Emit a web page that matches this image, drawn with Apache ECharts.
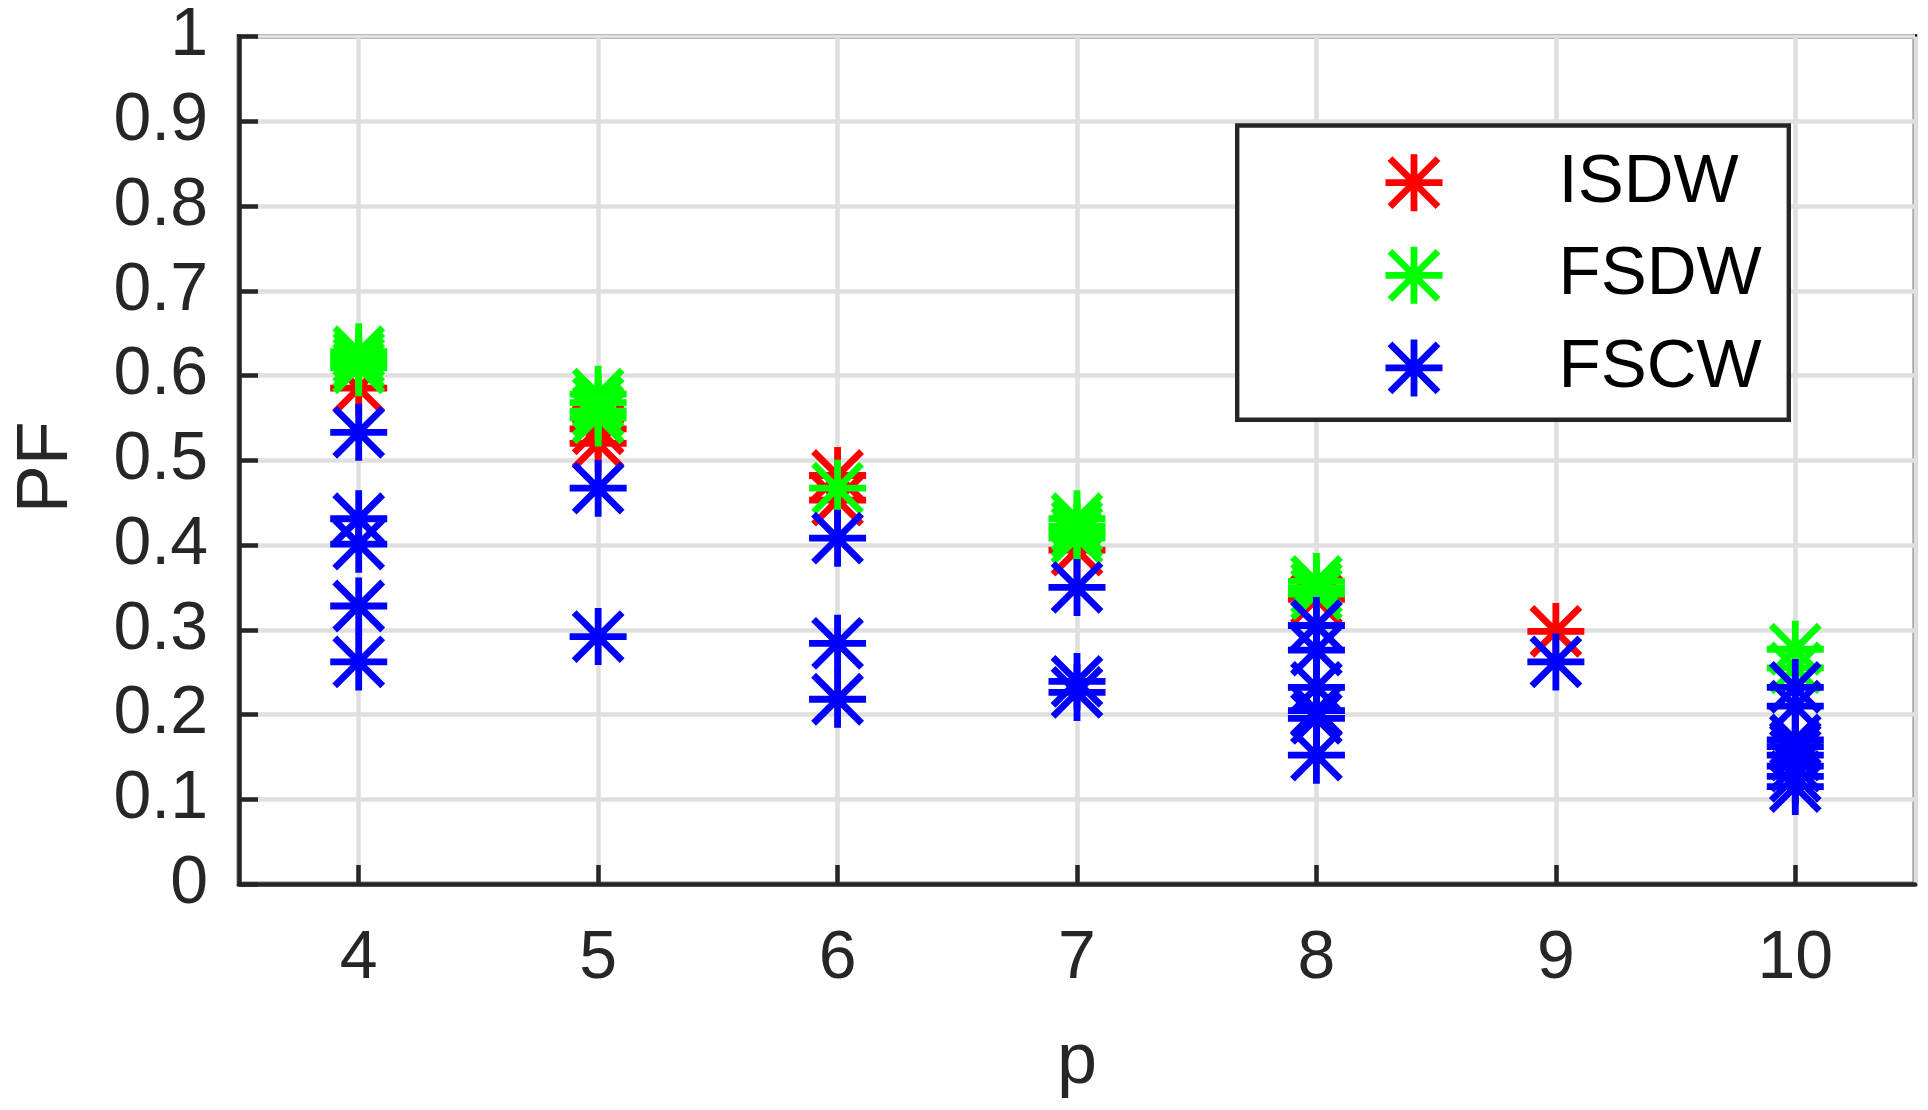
<!DOCTYPE html>
<html>
<head>
<meta charset="utf-8">
<script src="https://cdn.jsdelivr.net/npm/echarts@6/dist/echarts.min.js"></script>
<style>
html,body{margin:0;padding:0;background:#fff;}
#chart{width:1928px;height:1110px;}
</style>
</head>
<body>
<div id="chart"></div>
<script>
// p values (x categories)
const pValues = [4, 5, 6, 7, 8, 9, 10];
// PF values read per p, one list per p
const isdwValues = [
  [0.585],
  [0.537, 0.52],
  [0.482, 0.453],
  [0.394],
  [0.336],
  [0.298],
  []
];
const fsdwValues = [
  [0.628, 0.621, 0.615, 0.609],
  [0.578, 0.568, 0.558, 0.55],
  [0.467],
  [0.431, 0.422, 0.415, 0.408],
  [0.357, 0.349, 0.342],
  [],
  [0.277, 0.255]
];
const fscwValues = [
  [0.533, 0.431, 0.401, 0.328, 0.262],
  [0.467, 0.292],
  [0.408, 0.284, 0.218],
  [0.350, 0.239, 0.226],
  [0.305, 0.276, 0.232, 0.2045, 0.1955, 0.152],
  [0.262],
  [0.232, 0.21, 0.17, 0.162, 0.152, 0.139, 0.127, 0.115]
];
const seriesNames = ['ISDW', 'FSDW', 'FSCW'];
const seriesColors = ['#ff0000', '#00ff00', '#0000ff'];
const yTicks = [0, 0.1, 0.2, 0.3, 0.4, 0.5, 0.6, 0.7, 0.8, 0.9, 1];

function toPoints(lists) {
  const out = [];
  lists.forEach((vals, i) => vals.forEach(v => out.push([pValues[i], v])));
  return out;
}

const asterisk = 'path://M-28.5,-3.4L28.5,-3.4L28.5,3.4L-28.5,3.4Z' +
  'M-3.4,-28.5L3.4,-28.5L3.4,28.5L-3.4,28.5Z' +
  'M-21.6,-26.4L26.4,21.6L21.6,26.4L-26.4,-21.6Z' +
  'M-26.4,21.6L21.6,-26.4L26.4,-21.6L-21.6,26.4Z';

const font = "'Liberation Sans', Arial, Helvetica, sans-serif";
const allData = [isdwValues, fsdwValues, fscwValues];

const chart = echarts.init(document.getElementById('chart'), null, {renderer: 'canvas'});
chart.setOption({
  animation: false,
  backgroundColor: '#ffffff',
  grid: {
    left: 239, right: 13, top: 36.5, bottom: 226,
    outerBoundsMode: 'none',
    containLabel: false,
    show: true, borderColor: '#000000', borderWidth: 4.5, backgroundColor: 'transparent'
  },
  xAxis: {
    type: 'value',
    min: 3.5, max: 10.5,
    splitNumber: 7,
    name: 'p',
    nameLocation: 'middle',
    nameGap: 143,
    nameTextStyle: {fontFamily: font, fontSize: 72, color: '#262626'},
    axisLine: {show: true, onZero: false, lineStyle: {color: '#262626', width: 4.5}},
    axisTick: {show: true, inside: true, length: 19, lineStyle: {color: '#262626', width: 4.5}},
    axisLabel: {
      margin: 41, fontFamily: font, fontSize: 68, color: '#262626',
      showMinLabel: false, showMaxLabel: false,
      formatter: v => (Number.isInteger(v) && pValues.indexOf(v) >= 0) ? String(v) : ''
    },
    splitLine: {show: true, lineStyle: {color: '#dfdfdf', width: 4.5}}
  },
  yAxis: {
    type: 'value',
    min: yTicks[0], max: yTicks[yTicks.length - 1], interval: 0.1,
    name: 'PF',
    nameLocation: 'middle',
    nameGap: 156,
    nameTextStyle: {fontFamily: font, fontSize: 72, color: '#262626', padding: [0, 14, 0, 0]},
    axisLine: {show: true, lineStyle: {color: '#262626', width: 4.5}},
    axisTick: {show: true, inside: true, length: 19, lineStyle: {color: '#262626', width: 4.5}},
    axisLabel: {
      margin: 31, fontFamily: font, fontSize: 68, color: '#262626',
      formatter: v => String(Math.round(v * 10) / 10)
    },
    splitLine: {show: true, lineStyle: {color: '#dfdfdf', width: 4.5}}
  },
  legend: {
    orient: 'vertical',
    left: 1385.5, top: 148.2,
    padding: 0,
    itemWidth: 57, itemHeight: 57, itemGap: 23.6,
    selectedMode: false,
    textStyle: {fontFamily: font, fontSize: 69, color: '#000000', padding: [0, 0, 0, 111]},
    data: seriesNames
  },
  graphic: [{
    type: 'rect', z: 3, silent: true,
    shape: {x: 1237.2, y: 125.5, width: 551.6, height: 294.3},
    style: {fill: '#ffffff', stroke: '#262626', lineWidth: 4.4}
  }],
  series: seriesNames.map((name, i) => ({
    name: name,
    type: 'scatter',
    symbol: asterisk,
    symbolSize: 57,
    itemStyle: {color: seriesColors[i], opacity: 1},
    emphasis: {disabled: true},
    z: 2 + i * 0.01,
    data: toPoints(allData[i])
  }))
});
</script>
</body>
</html>
